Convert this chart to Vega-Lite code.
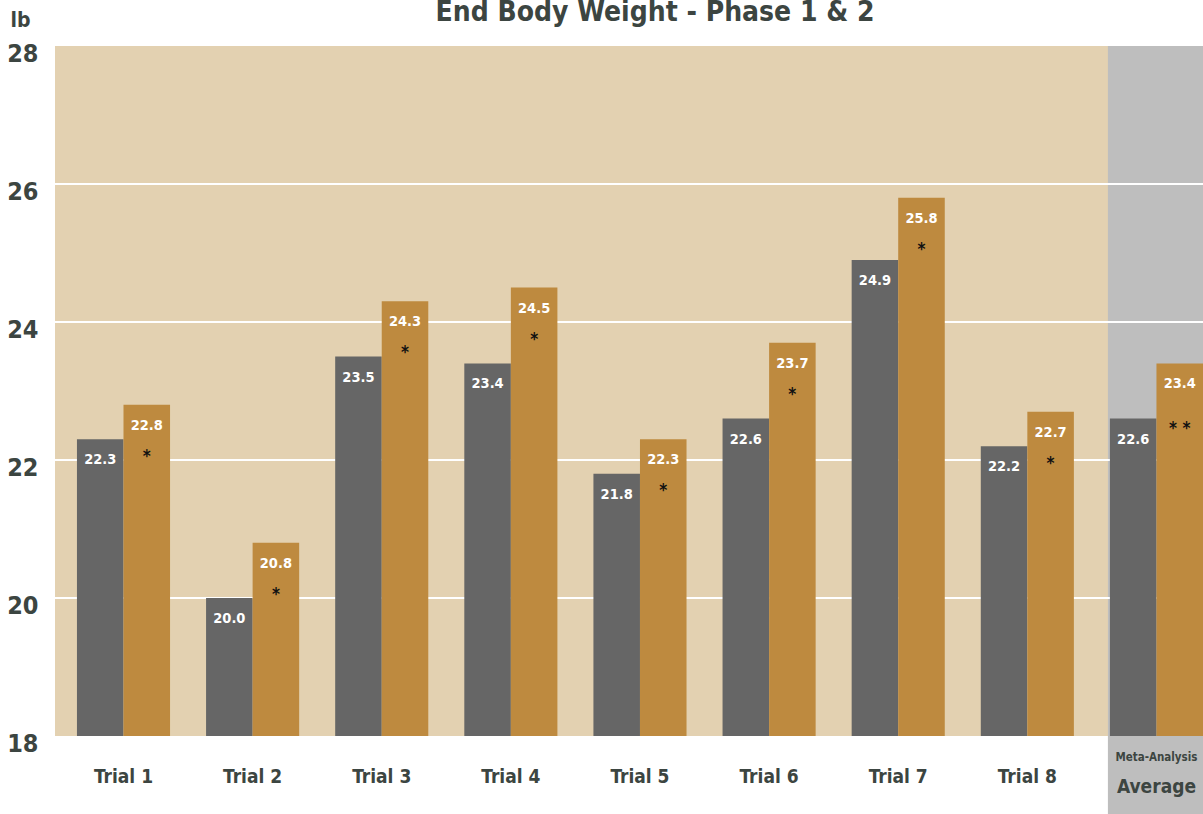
{
  "$schema": "https://vega.github.io/schema/vega-lite/v6.json",
  "width": 1148,
  "height": 690,
  "autosize": {"type": "none"},
  "padding": {"left": 55, "top": 46, "right": 0, "bottom": 78},
  "background": "#FFFFFF",
  "title": {
    "text": "End Body Weight - Phase 1 & 2",
    "font": "DejaVu Sans Condensed, Liberation Sans Narrow, sans-serif",
    "fontWeight": "bold",
    "fontSize": 28,
    "color": "#3C4541",
    "anchor": "middle",
    "frame": "group",
    "dx": 26,
    "offset": -18
  },
  "config": {
    "view": {"fill": "#E3D1B1", "stroke": null},
    "font": "DejaVu Sans Condensed, Liberation Sans Narrow, sans-serif"
  },
  "datasets": {
    "bars": [
      {"trial": "Trial 1", "group": "Control", "value": 22.3, "sig": ""},
      {"trial": "Trial 1", "group": "Treatment", "value": 22.8, "sig": "*"},
      {"trial": "Trial 2", "group": "Control", "value": 20.0, "sig": ""},
      {"trial": "Trial 2", "group": "Treatment", "value": 20.8, "sig": "*"},
      {"trial": "Trial 3", "group": "Control", "value": 23.5, "sig": ""},
      {"trial": "Trial 3", "group": "Treatment", "value": 24.3, "sig": "*"},
      {"trial": "Trial 4", "group": "Control", "value": 23.4, "sig": ""},
      {"trial": "Trial 4", "group": "Treatment", "value": 24.5, "sig": "*"},
      {"trial": "Trial 5", "group": "Control", "value": 21.8, "sig": ""},
      {"trial": "Trial 5", "group": "Treatment", "value": 22.3, "sig": "*"},
      {"trial": "Trial 6", "group": "Control", "value": 22.6, "sig": ""},
      {"trial": "Trial 6", "group": "Treatment", "value": 23.7, "sig": "*"},
      {"trial": "Trial 7", "group": "Control", "value": 24.9, "sig": ""},
      {"trial": "Trial 7", "group": "Treatment", "value": 25.8, "sig": "*"},
      {"trial": "Trial 8", "group": "Control", "value": 22.2, "sig": ""},
      {"trial": "Trial 8", "group": "Treatment", "value": 22.7, "sig": "*"},
      {"trial": "Meta-Analysis Average", "group": "Control", "value": 22.6, "sig": ""},
      {"trial": "Meta-Analysis Average", "group": "Treatment", "value": 23.4, "sig": "* *"}
    ],
    "grid": [{"g": 20}, {"g": 22}, {"g": 24}, {"g": 26}],
    "meta": [{"trial": "Meta-Analysis Average"}]
  },
  "encoding": {
    "x": {
      "field": "trial",
      "type": "nominal",
      "scale": {
        "domain": ["Trial 1", "Trial 2", "Trial 3", "Trial 4", "Trial 5", "Trial 6", "Trial 7", "Trial 8", "Meta-Analysis Average"],
        "paddingInner": 0.279,
        "paddingOuter": 0.085,
        "align": 1
      },
      "axis": {
        "title": null,
        "domain": false,
        "ticks": false,
        "labelAngle": 0,
        "labelPadding": 31,
        "labelFontSize": 19,
        "labelFontWeight": "bold",
        "labelColor": "#3C4541",
        "labelExpr": "datum.value == 'Meta-Analysis Average' ? '' : datum.value"
      }
    }
  },
  "layer": [
    {
      "data": {"name": "meta"},
      "mark": {"type": "rect", "color": "#BEBEBE", "xOffset": -2},
      "encoding": {
        "x": {"field": "trial", "type": "nominal", "bandPosition": 0},
        "x2": {"field": "trial", "bandPosition": 1},
        "y": {"datum": 28, "type": "quantitative", "scale": {"domain": [18, 28], "zero": false, "nice": false}},
        "y2": {"datum": 16.8}
      }
    },
    {
      "data": {"name": "grid"},
      "mark": {"type": "rule", "color": "#FFFFFF", "strokeWidth": 2},
      "encoding": {
        "x": null,
        "y": {"field": "g", "type": "quantitative"}
      }
    },
    {
      "data": {"name": "bars"},
      "mark": {"type": "bar"},
      "encoding": {
        "xOffset": {"field": "group", "type": "nominal", "scale": {"domain": ["Control", "Treatment"], "paddingInner": 0, "paddingOuter": 0}},
        "y": {
          "field": "value",
          "type": "quantitative",
          "axis": {
            "values": [18, 20, 22, 24, 26, 28],
            "format": "d",
            "grid": false,
            "domain": false,
            "ticks": false,
            "labelPadding": 17,
            "labelFontSize": 25,
            "labelFontWeight": "bold",
            "labelColor": "#3C4541",
            "labelFlush": false,
            "labelOffset": 7,
            "title": "lb",
            "titleAngle": 0,
            "titleAlign": "left",
            "titleBaseline": "middle",
            "titleX": -45,
            "titleY": -26,
            "titleFontSize": 21,
            "titleFontWeight": "bold",
            "titleColor": "#3C4541"
          }
        },
        "y2": {"datum": 18},
        "color": {"field": "group", "type": "nominal", "scale": {"domain": ["Control", "Treatment"], "range": ["#666666", "#BE8A3F"]}, "legend": null}
      }
    },
    {
      "data": {"name": "bars"},
      "mark": {"type": "text", "color": "#FFFFFF", "fontSize": 14.5, "fontWeight": "bold", "baseline": "middle", "dy": 21},
      "encoding": {
        "xOffset": {"field": "group", "type": "nominal"},
        "y": {"field": "value", "type": "quantitative"},
        "text": {"field": "value", "type": "quantitative", "format": ".1f"}
      }
    },
    {
      "data": {"name": "bars"},
      "transform": [{"filter": "datum.sig != '' && datum.trial != 'Meta-Analysis Average'"}],
      "mark": {"type": "text", "color": "#111111", "fontSize": 17, "fontWeight": "bold", "baseline": "middle", "dy": 52},
      "encoding": {
        "xOffset": {"field": "group", "type": "nominal"},
        "y": {"field": "value", "type": "quantitative"},
        "text": {"field": "sig"}
      }
    },
    {
      "data": {"name": "bars"},
      "transform": [{"filter": "datum.sig != '' && datum.trial == 'Meta-Analysis Average'"}],
      "mark": {"type": "text", "color": "#111111", "fontSize": 17, "fontWeight": "bold", "baseline": "middle", "dy": 66},
      "encoding": {
        "xOffset": {"field": "group", "type": "nominal"},
        "y": {"field": "value", "type": "quantitative"},
        "text": {"field": "sig"}
      }
    },
    {
      "data": {"name": "meta"},
      "mark": {"type": "text", "color": "#3C4541", "fontSize": 11.5, "fontWeight": "bold", "baseline": "middle"},
      "encoding": {
        "x": {"field": "trial", "type": "nominal"},
        "y": {"datum": 17.68},
        "text": {"value": "Meta-Analysis"}
      }
    },
    {
      "data": {"name": "meta"},
      "mark": {"type": "text", "color": "#3C4541", "fontSize": 19, "fontWeight": "bold", "baseline": "middle"},
      "encoding": {
        "x": {"field": "trial", "type": "nominal"},
        "y": {"datum": 17.26},
        "text": {"value": "Average"}
      }
    }
  ]
}
